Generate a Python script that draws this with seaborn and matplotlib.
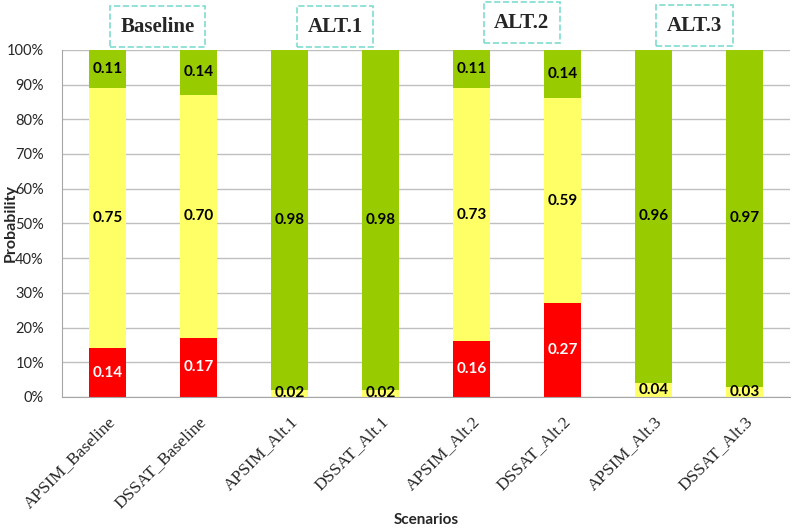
import numpy as np
import pandas as pd
import matplotlib
matplotlib.use("Agg")
import matplotlib.pyplot as plt
from matplotlib.ticker import PercentFormatter, FixedLocator
import seaborn as sns

# chart data
scenarios = ["APSIM_Baseline", "DSSAT_Baseline", "APSIM_Alt.1", "DSSAT_Alt.1",
             "APSIM_Alt.2", "DSSAT_Alt.2", "APSIM_Alt.3", "DSSAT_Alt.3"]
red_vals = [0.14, 0.17, 0.00, 0.00, 0.16, 0.27, 0.00, 0.00]
yellow_vals = [0.75, 0.70, 0.02, 0.02, 0.73, 0.59, 0.04, 0.03]
green_vals = [0.11, 0.14, 0.98, 0.98, 0.11, 0.14, 0.96, 0.97]
group_titles = ["Baseline", "ALT.1", "ALT.2", "ALT.3"]

RED = "#FF0000"
YELLOW = "#FFFF66"
GREEN = "#99CC00"

df = pd.DataFrame({"Scenario": scenarios, "red": red_vals,
                   "yellow": yellow_vals, "green": green_vals})
df["top_red"] = df["red"]
df["top_yellow"] = df["red"] + df["yellow"]
df["top_green"] = df["top_yellow"] + df["green"]

sns.set_style("white")
plt.rcParams["font.family"] = ["Lato", "DejaVu Sans"]

fig = plt.figure(figsize=(7.94, 5.30), dpi=100)
ax = fig.add_axes([0.078, 0.251, 0.917, 0.655])

# stacked bars: draw cumulative totals from the top layer down
for col, color in [("top_green", GREEN), ("top_yellow", YELLOW), ("top_red", RED)]:
    sns.barplot(data=df, x="Scenario", y=col, color=color, width=0.4,
                saturation=1, linewidth=0, ax=ax, zorder=2)

# segment labels
for i, row in df.iterrows():
    segs = [(0, row["red"], "white"),
            (row["top_red"], row["yellow"], "black"),
            (row["top_yellow"], row["green"], "black")]
    for base, h, tc in segs:
        if h <= 0:
            continue
        y = (base + min(base + h, 1.0)) / 2
        ax.text(i, y, f"{h:.2f}", ha="center", va="center", fontsize=11,
                fontweight="bold", color=tc, zorder=4)

ax.set_ylim(0, 1)
ax.set_xlim(-0.5, len(scenarios) - 0.5)
ax.yaxis.set_major_locator(FixedLocator(np.arange(0, 1.01, 0.1)))
ax.yaxis.set_major_formatter(PercentFormatter(1.0, decimals=0))
ax.grid(axis="y", color="#BFBFBF", linewidth=1)
ax.set_axisbelow(True)

for s in ["top", "right"]:
    ax.spines[s].set_visible(False)
for s in ["left", "bottom"]:
    ax.spines[s].set_color("#A6A6A6")

ax.tick_params(axis="y", length=5, color="#A6A6A6", direction="out",
               labelsize=10.5, pad=8)
ax.tick_params(axis="x", which="major", length=0, pad=12)
ax.set_xticks(np.arange(-0.5, len(scenarios)), minor=True)
ax.tick_params(axis="x", which="minor", length=5, color="#A6A6A6", direction="out")
ax.set_xticklabels(scenarios, rotation=45, ha="right", rotation_mode="anchor",
                   fontfamily="Liberation Serif", fontsize=12.5)

ax.set_xlabel("Scenarios", fontsize=11, fontweight="bold")
ax.xaxis.set_label_coords(0.5, -0.333)
ax.set_ylabel("Probability", fontsize=11.5, fontweight="bold")
ax.yaxis.set_label_coords(-0.061, 0.5)

# group titles in dashed boxes
title_x = [0.55, 2.5, 4.55, 6.45]
title_y = [1.066, 1.066, 1.078, 1.07]
for t, x, y in zip(group_titles, title_x, title_y):
    ax.text(x, y, t, transform=ax.get_xaxis_transform(), ha="center", va="center",
            fontfamily="Liberation Serif", fontsize=15, fontweight="bold",
            bbox=dict(boxstyle="square,pad=0.5", facecolor="white",
                      edgecolor="#7FDBD0", linestyle="--", linewidth=1.2),
            clip_on=False)

fig.savefig("out.png", dpi=100)
